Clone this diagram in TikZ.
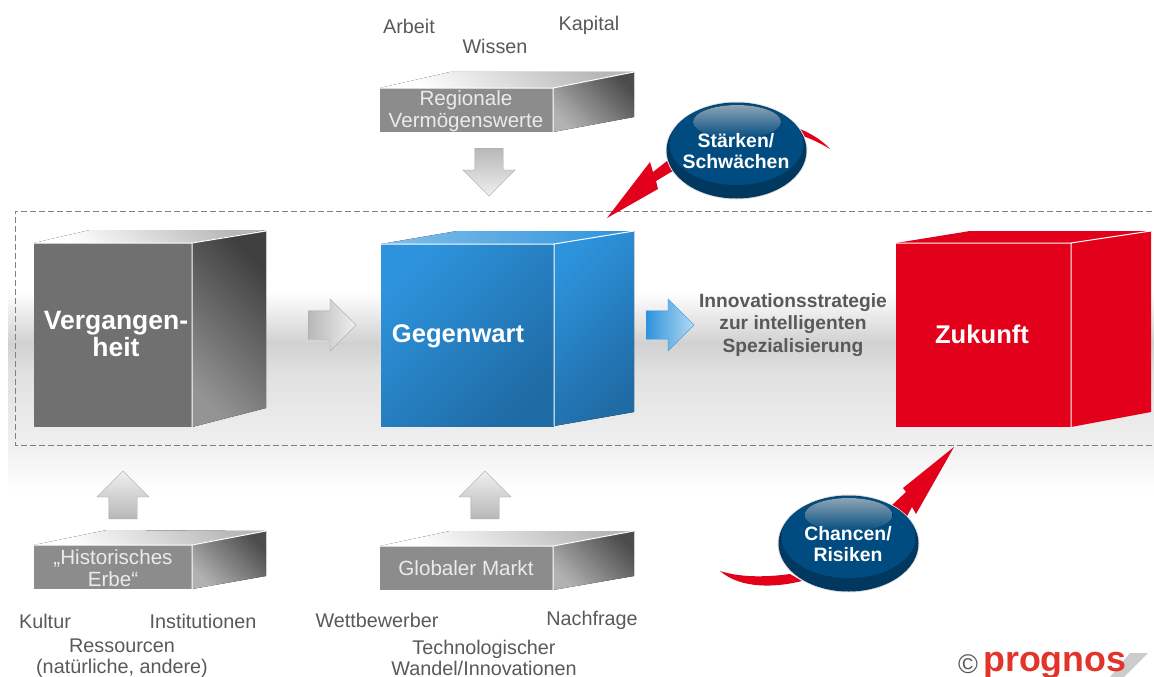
\documentclass[tikz,border=0pt]{standalone}
\usepackage{fontspec}
\setmainfont{Liberation Sans}
\usetikzlibrary{positioning}
\usetikzlibrary{shapes.arrows}
\definecolor{pgray}{HTML}{595959}
\definecolor{pred}{HTML}{E2001A}
\definecolor{pblue}{HTML}{2D93DC}
\definecolor{pdblue}{HTML}{1F6BA5}
\definecolor{pnavy}{HTML}{004B80}
\definecolor{plogo}{HTML}{E3342B}
\tikzset{
    lbl/.style={
           text=pgray,
           inner sep=0pt,
           align=center,
           font=\fontsize{19.8}{21}\selectfont,
           },
}
\tikzset{
    boxlbl/.style={
           text=white!92!black,
           inner sep=0pt,
           align=center,
           font=\fontsize{20.6}{22}\selectfont,
           },
}
\tikzset{
    cubelbl/.style={
           text=white,
           inner sep=0pt,
           align=center,
           font=\fontsize{25.6}{27}\selectfont\bfseries,
           },
}
\tikzset{
    strat/.style={
           text=pgray,
           inner sep=0pt,
           align=center,
           font=\fontsize{19.2}{22.5}\selectfont\bfseries,
           },
}
\tikzset{
    ovlbl/.style={
           text=white,
           inner sep=0pt,
           align=center,
           font=\fontsize{19.4}{20.5}\selectfont\bfseries,
           },
}
\tikzset{
    gfront/.style={fill=black!56},
    gside/.style={left color=black!42,right color=black!75,shading angle=135},
    fside/.style={left color=black!30,right color=black!70,shading angle=135},
    gtop/.style={left color=white,right color=black!28,shading angle=135},
    bfront/.style={left color=pblue,right color=pdblue,shading angle=45},
    btop/.style={left color=pblue!60,right color=pblue},
    edgew/.style={draw=white,line width=1pt},
}
\tikzset{
    block/.style={
           single arrow,
           single arrow head extend=12pt,
           single arrow tip angle=90,
           single arrow head indent=0pt,
           inner sep=14pt,
           minimum width=52pt,
           minimum height=48pt,
           draw=black!35,
           anchor=tail,
           },
    gblock/.style={block,left color=black!28,right color=black!6},
    blblock/.style={block,draw=pblue,left color=pblue,right color=pblue!35},
}
\begin{document}
\begin{tikzpicture}[x=1pt,y=-1pt]
\useasboundingbox (0,0) rectangle (1154,677);
% band behind the row of cubes
\fill[top color=white,bottom color=black!18] (8,292) rectangle (1154,343);
\fill[top color=black!18,bottom color=black!12] (8,343) rectangle (1154,372);
\fill[top color=black!12,bottom color=black!6] (8,372) rectangle (1154,445);
\fill[top color=black!6,bottom color=white] (8,445) rectangle (1154,492);
\draw[black!50,dash pattern=on 6pt off 3pt] (1152,211) -- (15,211) -- (15,445) -- (1152,445);

% big cubes
\fill[gtop] (34,243) -- (90,230) -- (266,230) -- (192,243) -- cycle;
\fill[gside] (192,243) -- (266,231) -- (266,408) -- (192,427) -- cycle;
\fill[gfront] (34,243) rectangle (192,427);
\draw[edgew] (34,243) -- (192,243) -- (266,231) (192,243) -- (192,427);

\fill[btop] (381,244) -- (457,231) -- (634,231) -- (554,244) -- cycle;
\fill[bfront] (554,244) -- (634,231) -- (634,412) -- (554,426) -- cycle;
\fill[bfront] (381,244) rectangle (554,426);
\draw[edgew] (381,244) -- (554,244) -- (634,231) (554,244) -- (554,426);

\fill[pred] (896,243) -- (970,231) -- (1151,231) -- (1071,243) -- cycle;
\fill[pred] (1071,243) -- (1151,231) -- (1151,412) -- (1071,427) -- cycle;
\fill[pred] (896,243) rectangle (1071,427);
\draw[edgew] (896,243) -- (1071,243) -- (1151,231) (1071,243) -- (1071,427);

% flat boxes
\fill[gtop] (380,88) -- (450,72) -- (634,72) -- (553,88) -- cycle;
\fill[fside] (553,88) -- (634,72) -- (634,117) -- (553,132) -- cycle;
\fill[black!45] (380,88) rectangle (553,132);
\draw[edgew] (380,88) -- (553,88) -- (634,72) (553,88) -- (553,132);

\fill[gtop] (34,545) -- (107,530) -- (266,531) -- (192,545) -- cycle;
\fill[fside] (192,545) -- (266,531) -- (266,576) -- (192,589) -- cycle;
\fill[black!45] (34,545) rectangle (192,589);
\draw[edgew] (34,545) -- (192,545) -- (266,531) (192,545) -- (192,589);

\fill[gtop] (380,546) -- (450,531) -- (634,531) -- (553,546) -- cycle;
\fill[fside] (553,546) -- (634,531) -- (634,576) -- (553,590) -- cycle;
\fill[black!45] (380,546) rectangle (553,590);
\draw[edgew] (380,546) -- (553,546) -- (634,531) (553,546) -- (553,590);

% block arrows
\node[gblock,rotate=-90,shading angle=0] (regarrow) at (489,148) {};
\node[gblock,rotate=90,shading angle=180] (erbearrow) at (123,519) {};
\node[gblock,rotate=90,shading angle=180] (marktarrow) at (485,519) {};
\node[gblock] (pastarrow) at (308,325) {};
\node[blblock] (nowarrow) at (646,325) {};

% red arrows and their tails
\fill[pred] (800,129) .. controls (812,134) and (823,141) .. (830,149) .. controls (820,143) and (808,137) .. (796,134) -- cycle;
\fill[pred] (720,571) .. controls (742,578) and (768,577) .. (790,574) -- (802,581) .. controls (778,587) and (742,590) .. (720,571) -- cycle;
\fill[pred] (607,218) -- (650,162) -- (653,172) -- (667,161) -- (680,170) -- (671,172) -- (656,181) -- (658,189) -- cycle;
\fill[pred] (954,447) -- (903,488) -- (906,492) -- (890,507) -- (905,520) -- (912,507) -- (916,514) -- cycle;

% ovals
\fill[black!12] (736.5,150.5) ellipse (71 and 49);
\fill[pnavy!75!black] (736.5,150.5) ellipse (70 and 48);
\fill[pnavy] (736.5,144) ellipse (67 and 41);
\fill[top color=black!30!pnavy!45,bottom color=pnavy] (737,122) ellipse (44 and 17);
\fill[black!12] (848.5,543.5) ellipse (71 and 49);
\fill[pnavy!75!black] (848.5,543.5) ellipse (70 and 48);
\fill[pnavy] (848.5,537) ellipse (67 and 41);
\fill[top color=black!30!pnavy!45,bottom color=pnavy] (848.5,515) ellipse (44 and 17);

% texts
\node[lbl] (arbeit) at (409,26) {Arbeit};
\node[lbl] (wissen) at (495,46) {Wissen};
\node[lbl] (kapital) at (589,25.5) {Kapital};
\node[boxlbl] (regional) at (466,111) {Regionale\\Vermögenswerte};
\node[boxlbl] (erbe) at (113,568) {„Historisches\\Erbe“};
\node[boxlbl] (markt) at (466,568) {Globaler Markt};
\node[cubelbl,font=\fontsize{26.5}{27}\selectfont\bfseries] (past) at (116,334) {Vergangen-\\heit};
\node[cubelbl] (now) at (458,336) {Gegenwart};
\node[cubelbl] (future) at (982,334) {Zukunft};
\node[strat] (strategie) at (793,325) {Innovationsstrategie\\zur intelligenten\\Spezialisierung};
\node[ovlbl] (staerken) at (736,151) {Stärken/\\Schwächen};
\node[ovlbl] (chancen) at (848,544) {Chancen/\\Risiken};
\node[lbl] (kultur) at (45,621) {Kultur};
\node[lbl] (inst) at (203,621) {Institutionen};
\node[lbl] (ress) at (122,658) {Ressourcen\\(natürliche, andere)};
\node[lbl] (wett) at (377,620) {Wettbewerber};
\node[lbl] (nach) at (592,620.5) {Nachfrage};
\node[lbl] (tech) at (484,658) {Technologischer\\Wandel/Innovationen};

% logo
\fill[black!20] (1130,653) -- (1148,653) -- (1124,677) -- (1110,677) -- cycle;
\node[text=pgray,inner sep=0pt,font=\fontsize{27}{27}\selectfont] (copy) at (968,664.5) {©};
\node[text=plogo,inner sep=0pt,anchor=base west,font=\fontsize{35.8}{36}\selectfont\bfseries] (logo) at (983,671) {prognos};
\end{tikzpicture}
\end{document}
